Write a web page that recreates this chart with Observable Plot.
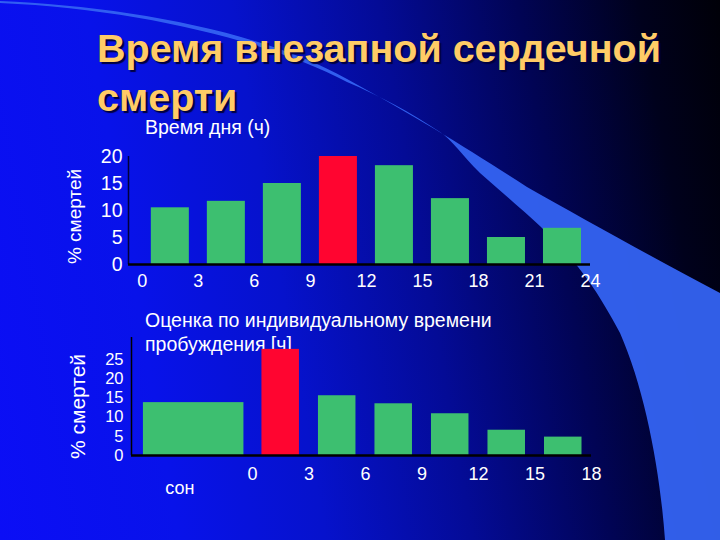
<!DOCTYPE html>
<html><head><meta charset="utf-8">
<script src="https://cdn.jsdelivr.net/npm/d3@7"></script>
<script src="https://cdn.jsdelivr.net/npm/@observablehq/plot@0.6"></script>
<style>
html,body{margin:0;padding:0;}
#slide{position:relative;width:720px;height:540px;overflow:hidden;
  background:linear-gradient(80deg,#0b0ef6 0%,#0812ea 22%,#0612cc 40%,#040b96 58%,#010455 75%,#00011c 90%,#000008 100%);
  font-family:"Liberation Sans",Arial,sans-serif;}
#swoosh{position:absolute;left:0;top:0;}
.abs{position:absolute;white-space:nowrap;}
.title{left:97px;font-size:39.5px;line-height:38px;font-weight:bold;color:#ffcc66;
  text-shadow:2px 2px 1px #000040;}
#t1{top:29.25px;}
#t2{top:77.65px;}
#sub1{left:145px;top:119px;font-size:19.5px;line-height:16px;color:#fff;}
#sub2{left:145px;top:307.6px;font-size:19.5px;line-height:24px;color:#fff;}
#c1{position:absolute;left:0;top:130px;}
#c2{position:absolute;left:0;top:320px;}
</style></head>
<body>
<div id="slide">
<svg id="swoosh" width="720" height="540">
  <path d="M0,1 C120,6 260,30 347,79 C420,119 470,150 527,187 C580,217 650,256 720,293 L720,540 L665,540 C660,470 645,390 620,333 C600,295 585,275 570,257 C545,228 510,200 480,173 C462,155 452,140 440,132 C410,112 380,96 347,82 C270,42 140,9 0,3 Z" fill="#3463f2" opacity="0.95"/>
</svg>
<div id="t1" class="abs title">Время внезапной сердечной</div>
<div id="t2" class="abs title">смерти</div>
<div id="sub1" class="abs">Время дня (ч)</div>
<div id="sub2" class="abs">Оценка по индивидуальному времени<br>пробуждения [ч]</div>
<div id="c1"></div>
<div id="c2"></div>
</div>
<script>
// ---- data: time of day ----
const dayStart = [0, 3, 6, 9, 12, 15, 18, 21];
const dayPct   = [10.5, 11.7, 15.0, 20.0, 18.3, 12.2, 5.0, 6.7];
const dayPeak  = 9;
const dayXTicks = [0, 3, 6, 9, 12, 15, 18, 21, 24];
const dayYTicks = [0, 5, 10, 15, 20];

// ---- data: time since waking ----
const sleepLabel = "сон";
const sleepPct = 13.8;
const wakeStart = [0, 3, 6, 9, 12, 15];
const wakePct   = [27.7, 15.6, 13.5, 10.9, 6.6, 4.8];
const wakePeak  = 0;
const wakeXTicks = [0, 3, 6, 9, 12, 15, 18];
const wakeYTicks = [0, 5, 10, 15, 20, 25];

const yTitle = "% смертей";

const GREEN = "#3dbf70", RED = "#ff0530";
const tickFont = "'Liberation Sans Narrow','Arial Narrow','Liberation Sans',sans-serif";
const labFont = "'Liberation Sans',Arial,sans-serif";

const day = dayStart.map((s, i) => ({s, e: s + 3, v: dayPct[i], c: s === dayPeak ? RED : GREEN}));
const wake = wakeStart.map((s, i) => ({s, e: s + 3, v: wakePct[i], c: s === wakePeak ? RED : GREEN}));
const sleep = [{s: -6, e: 0, v: sleepPct, c: GREEN, label: sleepLabel}];

const dayX = [-0.74, 24];
const p1 = Plot.plot({
  width: 720, height: 170,
  marginLeft: 128, marginRight: 130, marginTop: 26, marginBottom: 36,
  style: {background: "transparent", overflow: "visible"},
  x: {domain: dayX, axis: null},
  y: {domain: [0, 20], axis: null},
  marks: [
    Plot.ruleX([dayX[0]], {y1: 0, y2: 20, stroke: "#00003a", strokeWidth: 1.5}),
    Plot.rectY(day, {x1: "s", x2: "e", y: "v", fill: "c", insetLeft: 9, insetRight: 9}),
    Plot.ruleY([0], {stroke: "#000", strokeWidth: 2.5}),
    Plot.text(dayYTicks, {x: dayX[0], y: d => d, text: d => String(d), textAnchor: "end", dx: -6,
      fill: "#fff", fontSize: 19.5, fontFamily: tickFont}),
    Plot.text(dayXTicks, {x: d => d, y: 0, text: d => String(d), dy: 17,
      fill: "#fff", fontSize: 18, fontFamily: labFont}),
    Plot.text([yTitle], {frameAnchor: "left", text: d => d, rotate: -90, textAnchor: "middle",
      dx: -54, dy: 6, fill: "#fff", fontSize: 19, fontFamily: labFont})
  ]
});
document.getElementById("c1").appendChild(p1);

const wakeX = [-6.42, 18];
const p2 = Plot.plot({
  width: 720, height: 190,
  marginLeft: 131, marginRight: 129, marginTop: 17, marginBottom: 55,
  style: {background: "transparent", overflow: "visible"},
  x: {domain: wakeX, axis: null},
  y: {domain: [0, 30.8], axis: null},
  marks: [
    Plot.ruleX([wakeX[0]], {y1: 0, y2: 30.8, stroke: "#000", strokeWidth: 1.5}),
    Plot.rectY(sleep, {x1: "s", x2: "e", y: "v", fill: "c", insetLeft: 4, insetRight: 8.5}),
    Plot.rectY(wake, {x1: "s", x2: "e", y: "v", fill: "c", insetLeft: 9.5, insetRight: 9.5}),
    Plot.ruleY([0], {stroke: "#000", strokeWidth: 2.5}),
    Plot.text(wakeYTicks, {x: wakeX[0], y: d => d, text: d => String(d), textAnchor: "end", dx: -8,
      fill: "#fff", fontSize: 16.5, fontFamily: tickFont}),
    Plot.text(wakeXTicks, {x: d => d, y: 0, text: d => String(d), dy: 19,
      fill: "#fff", fontSize: 18, fontFamily: labFont}),
    Plot.text(sleep, {x: d => (d.s + d.e) / 2, y: 0, text: "label", dy: 33, dx: -16,
      fill: "#fff", fontSize: 18, fontFamily: labFont}),
    Plot.text([yTitle], {frameAnchor: "left", text: d => d, rotate: -90, textAnchor: "middle",
      dx: -53.5, dy: 10, fill: "#fff", fontSize: 21, fontFamily: labFont})
  ]
});
document.getElementById("c2").appendChild(p2);
</script>
</body></html>
